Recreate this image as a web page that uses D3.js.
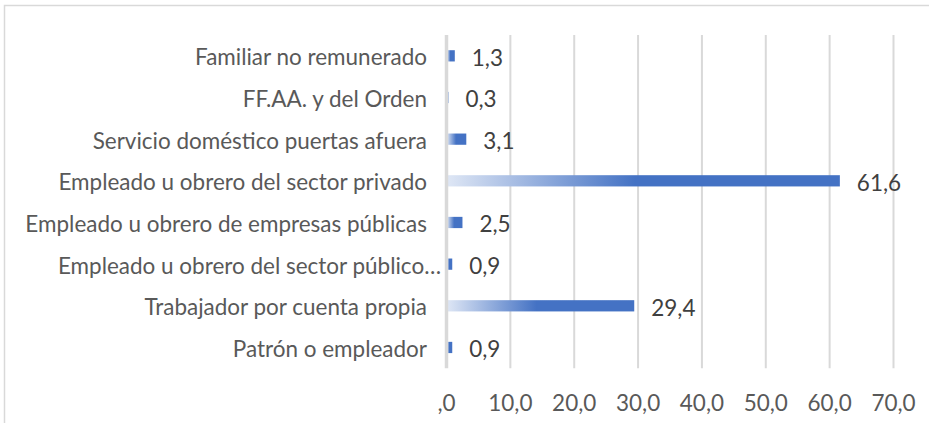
<!DOCTYPE html>
<html>
<head>
<meta charset="utf-8">
<script src="https://cdn.jsdelivr.net/npm/d3@7"></script>
<style>
  html, body { margin: 0; padding: 0; background: #fff; }
  svg { display: block; }
  text { font-family: Lato, "Open Sans", sans-serif; }
</style>
</head>
<body>
<svg id="chart" width="929" height="423"></svg>
<script>
// Data (bottom to top as in the chart)
const categories = [
  "Patrón o empleador",
  "Trabajador por cuenta propia",
  "Empleado u obrero del sector público…",
  "Empleado u obrero de empresas públicas",
  "Empleado u obrero del sector privado",
  "Servicio doméstico puertas afuera",
  "FF.AA. y del Orden",
  "Familiar no remunerado"
];
const values = [0.9, 29.4, 0.9, 2.5, 61.6, 3.1, 0.3, 1.3];
const tickValues = [0, 10, 20, 30, 40, 50, 60, 70];
const tickLabels = [",0", "10,0", "20,0", "30,0", "40,0", "50,0", "60,0", "70,0"];

const svg = d3.select("#chart");
const W = 929, H = 423;

// frame
svg.append("rect")
  .attr("x", 4.5).attr("y", 5.5)
  .attr("width", W + 20).attr("height", H + 20)
  .attr("fill", "#fff").attr("stroke", "#d9d9d9").attr("stroke-width", 1.5);

const x = d3.scaleLinear().domain([0, 70]).range([446.5, 893.5]);
const y = d3.scaleBand().domain(categories.slice().reverse()).range([35, 368.3]).paddingInner(0.73).paddingOuter(0.365);

// gradient
const defs = svg.append("defs");
const grad = defs.append("linearGradient").attr("id", "barGrad")
  .attr("x1", "0%").attr("x2", "100%").attr("y1", "0%").attr("y2", "0%");
grad.append("stop").attr("offset", "0%").attr("stop-color", "#dfe7f5");
grad.append("stop").attr("offset", "48%").attr("stop-color", "#4472c4");
grad.append("stop").attr("offset", "100%").attr("stop-color", "#4472c4");

// grid lines
svg.append("g").selectAll("line")
  .data(tickValues.filter(d => d !== 0))
  .join("line")
  .attr("x1", d => x(d)).attr("x2", d => x(d))
  .attr("y1", 35).attr("y2", 368.3)
  .attr("stroke", "#d9d9d9").attr("stroke-width", 2);

// bars
const data = categories.map((c, i) => ({ c, v: values[i] }));
svg.append("g").selectAll("rect")
  .data(data)
  .join("rect")
  .attr("x", x(0))
  .attr("y", d => y(d.c))
  .attr("width", d => x(d.v) - x(0))
  .attr("height", y.bandwidth())
  .attr("fill", "url(#barGrad)");

// zero axis line
svg.append("line")
  .attr("x1", x(0)).attr("x2", x(0))
  .attr("y1", 35).attr("y2", 368.3)
  .attr("stroke", "#d9d9d9").attr("stroke-width", 3.5);

// category labels
const catG = svg.append("g");
const catTexts = catG.selectAll("text")
  .data(data)
  .join("text")
  .attr("x", d => d.c.endsWith("…") ? 441 : 427)
  .attr("y", d => y(d.c) + y.bandwidth() / 2 + 1)
  .attr("text-anchor", "end")
  .attr("dominant-baseline", "central")
  .attr("fill", "#595959")
  .attr("font-size", 20)
  .text(d => d.c);
// scale font to match target width of the longest label
const longNode = catTexts.filter(d => d.c === "Empleado u obrero de empresas públicas").node();
const w20 = longNode.getComputedTextLength();
const fs = 20 * 402 / w20;
catTexts.attr("font-size", fs);

// value labels
svg.append("g").selectAll("text")
  .data(data)
  .join("text")
  .attr("x", d => x(d.v) + 17)
  .attr("y", d => y(d.c) + y.bandwidth() / 2 + 1.5)
  .attr("dominant-baseline", "central")
  .attr("fill", "#404040")
  .attr("font-size", fs)
  .text(d => d3.format(".1f")(d.v).replace(".", ","));

// tick labels
svg.append("g").selectAll("text")
  .data(tickValues)
  .join("text")
  .attr("x", d => x(d))
  .attr("y", 411)
  .attr("text-anchor", "middle")
  .attr("fill", "#595959")
  .attr("font-size", fs)
  .text((d, i) => tickLabels[i]);
</script>
</body>
</html>
